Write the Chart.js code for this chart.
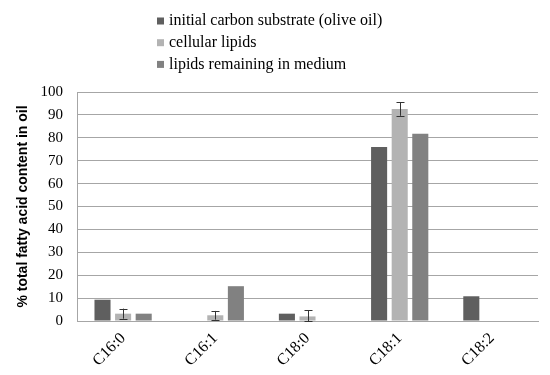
<!DOCTYPE html>
<html>
<head>
<meta charset="utf-8">
<script src="https://cdn.jsdelivr.net/npm/chart.js@4"></script>
<style>
  html, body { margin: 0; padding: 0; background: #fff; }
  #wrap { width: 550px; height: 375px; }
</style>
</head>
<body>
<div id="wrap"><canvas id="myChart" width="550" height="375"></canvas></div>
<script>
// fatty acid categories
const acids = ["C16:0", "C16:1", "C18:0", "C18:1", "C18:2"];
// series
const seriesNames = [
	"initial carbon substrate (olive oil)",
	"cellular lipids",
	"lipids remaining in medium",
];
const oliveOil = [9.3, 0, 3.2, 76, 10.8];
const cellular = [3.2, 2.5, 2, 92.6, 0];
const medium = [3.2, 15.2, 0, 81.8, 0];
// error (+/-) on cellular lipids
const cellularErr = [2.2, 1.9, 2.6, 3, 0];
const yTicks = [0, 10, 20, 30, 40, 50, 60, 70, 80, 90, 100];

const colors = ["#5f5f5f", "#b3b3b3", "#818181"];
const serif = "'Liberation Serif', 'Times New Roman', serif";

// draws the I-shaped error bars on the cellular lipids bars
const errorBars = {
	id: "errorBars",
	afterDatasetsDraw(chart) {
		const meta = chart.getDatasetMeta(1);
		const y = chart.scales.y;
		const ctx = chart.ctx;
		ctx.save();
		ctx.strokeStyle = "#333";
		ctx.lineWidth = 1;
		meta.data.forEach((bar, i) => {
			const e = cellularErr[i];
			if (!e) return;
			const v = cellular[i];
			const top = y.getPixelForValue(v + e);
			const bot = y.getPixelForValue(Math.max(v - e, 0));
			const x = Math.round(bar.x) + 0.5;
			ctx.beginPath();
			ctx.moveTo(x, top); ctx.lineTo(x, bot);
			ctx.moveTo(x - 4, Math.round(top) + 0.5); ctx.lineTo(x + 4, Math.round(top) + 0.5);
			ctx.moveTo(x - 4, Math.round(bot) + 0.5); ctx.lineTo(x + 4, Math.round(bot) + 0.5);
			ctx.stroke();
		});
		ctx.restore();
	},
};

// legend stacked one item per row, top centre
const stackedLegend = {
	id: "stackedLegend",
	afterDraw(chart) {
		const ctx = chart.ctx;
		ctx.save();
		ctx.font = "16px " + serif;
		ctx.textBaseline = "middle";
		ctx.textAlign = "left";
		seriesNames.forEach((name, i) => {
			const cy = 21 + i * 21.7;
			ctx.fillStyle = colors[i];
			ctx.fillRect(157, cy - 3.5, 7, 7);
			ctx.fillStyle = "#000";
			ctx.fillText(name, 169, cy);
		});
		ctx.restore();
	},
};

const mkSet = (i, data) => ({
	label: seriesNames[i],
	data: data,
	backgroundColor: colors[i],
	borderWidth: 0,
	categoryPercentage: 0.67,
	barPercentage: 0.78,
});

new Chart(document.getElementById("myChart"), {
	type: "bar",
	data: {
		labels: acids,
		datasets: [mkSet(0, oliveOil), mkSet(1, cellular), mkSet(2, medium)],
	},
	plugins: [errorBars, stackedLegend],
	options: {
		responsive: false,
		animation: false,
		layout: { padding: { top: 92, right: 12, left: 0, bottom: 0 } },
		scales: {
			x: {
				grid: { display: false, drawTicks: false },
				border: { color: "#a6a6a6", width: 1 },
				afterFit(scale) {
					scale.height = 54;
				},
				ticks: {
					color: "#000",
					font: { family: serif, size: 16 },
					minRotation: 45,
					maxRotation: 45,
					padding: 8,
				},
			},
			y: {
				min: 0,
				max: 100,
				afterBuildTicks(scale) {
					scale.ticks = yTicks.map((v) => ({ value: v }));
				},
				afterFit(scale) {
					scale.width = 77;
				},
				grid: { color: "#a6a6a6", drawTicks: false },
				border: { color: "#a6a6a6", width: 1 },
				ticks: {
					color: "#000",
					font: { family: serif, size: 15 },
					padding: 14,
				},
				title: {
					display: true,
					text: "% total fatty acid content in oil",
					color: "#000",
					font: { family: "'Liberation Sans', Arial, sans-serif", size: 14, weight: "bold" },
					padding: { top: 15, bottom: 0 },
				},
			},
		},
		plugins: {
			legend: { display: false },
			tooltip: { enabled: false },
		},
	},
});
</script>
</body>
</html>
